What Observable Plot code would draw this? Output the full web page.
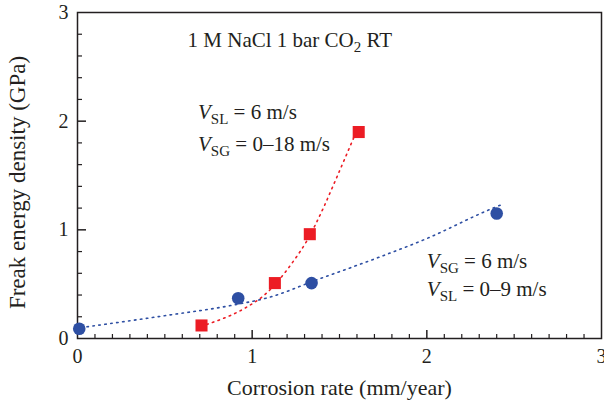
<!DOCTYPE html>
<html><head><meta charset="utf-8">
<script src="https://cdn.jsdelivr.net/npm/d3@7"></script>
<script src="https://cdn.jsdelivr.net/npm/@observablehq/plot@0.6"></script>
<style>body{margin:0;background:#fff}</style>
</head><body><div id="chart"></div>
<script>
const redX = [0.71, 1.13, 1.33, 1.61];
const redY = [0.12, 0.51, 0.96, 1.90];
const blueX = [0.01, 0.92, 1.34, 2.40];
const blueY = [0.09, 0.37, 0.51, 1.15];
const redTrendX = [0.74, 0.97, 1.07, 1.24, 1.31, 1.41, 1.47, 1.59];
const redTrendY = [0.13, 0.29, 0.40, 0.72, 0.89, 1.21, 1.43, 1.88];
const blueTrendX = [0.02, 0.5, 0.9, 1.1, 1.37, 1.73, 2.0, 2.35, 2.44];
const blueTrendY = [0.10, 0.21, 0.31, 0.38, 0.54, 0.75, 0.92, 1.18, 1.24];
const majorTicks = [0, 1, 2, 3];
const xMinor = d3.range(1, 30).map(i => i / 10).filter(v => Math.abs(v - Math.round(v)) > 1e-9);
const yMinor = d3.range(1, 15).map(i => i / 5).filter(v => Math.abs(v - Math.round(v)) > 1e-9);

const W = 604, H = 405, ML = 77, MR = 3, MT = 12, MB = 67;
const red = "#ec1c24", blue = "#2e4fa3", ink = "#231f20";
const pts = (xs, ys) => xs.map((x, i) => ({x, y: ys[i]}));
const font = "'Liberation Serif', 'DejaVu Serif', serif";

const annotations = [
  {x: 0.63, y: 2.74, key: "title"},
  {x: 0.69, y: 2.08, key: "sl1"},
  {x: 0.69, y: 1.79, key: "sg1"},
  {x: 2.0, y: 0.71, key: "sg2"},
  {x: 2.0, y: 0.45, key: "sl2"}
];

const chart = Plot.plot({
  width: W, height: H,
  marginLeft: ML, marginRight: MR, marginTop: MT, marginBottom: MB,
  style: {fontFamily: font, fontSize: "20px", color: ink, background: "#fff"},
  x: {domain: [0, 3], label: null},
  y: {domain: [0, 3], label: null},
  marks: [
    Plot.axisX(majorTicks, {tickSize: 0, tickPadding: 10, fontSize: 20, tickFormat: d3.format("d")}),
    Plot.axisY(majorTicks, {tickSize: 0, tickPadding: 9, fontSize: 20, tickFormat: d3.format("d")}),
    Plot.axisX([1, 2], {tickSize: -8, tickFormat: () => "", stroke: ink, strokeWidth: 1.5}),
    Plot.axisX(xMinor, {tickSize: -4, tickFormat: () => "", stroke: ink, strokeWidth: 1.2}),
    Plot.axisY([1, 2], {tickSize: -9, tickFormat: () => "", stroke: ink, strokeWidth: 1.5}),
    Plot.axisY(yMinor, {tickSize: -5, tickFormat: () => "", stroke: ink, strokeWidth: 1.2}),
    Plot.frame({stroke: ink, strokeWidth: 1.5}),
    Plot.line(pts(blueTrendX, blueTrendY), {x: "x", y: "y", curve: "monotone-x", stroke: blue, strokeWidth: 1.6, strokeDasharray: "1.5 4.5"}),
    Plot.line(pts(redTrendX, redTrendY), {x: "x", y: "y", curve: "monotone-x", stroke: red, strokeWidth: 1.6, strokeDasharray: "1.5 4.5"}),
    Plot.dot(pts(blueX, blueY), {x: "x", y: "y", r: 6.3, fill: blue, stroke: "none"}),
    Plot.dot(pts(redX, redY), {x: "x", y: "y", r: 6.8, symbol: "square", fill: red, stroke: "none"}),
    Plot.text(annotations, {x: "x", y: "y", text: "key", textAnchor: "start", fontSize: 21, fill: ink, className: "annot"}),
    Plot.text(["Corrosion rate (mm/year)"], {frameAnchor: "bottom", dy: 56, fontSize: 22, fill: ink}),
    Plot.text(["Freak energy density (GPa)"], {frameAnchor: "left", textAnchor: "middle", dx: -60, dy: 7, rotate: -90, fontSize: 23, fill: ink})
  ]
});

const sub = (main, s, rest) =>
  `<tspan font-style="italic">${main}</tspan><tspan dy="5" font-size="15">${s}</tspan><tspan dy="-5"> = ${rest}</tspan>`;
const html = {
  title: `1 M NaCl 1 bar CO<tspan dy="5" font-size="15">2</tspan><tspan dy="-5"> RT</tspan>`,
  sl1: sub("V", "SL", "6 m/s"),
  sg1: sub("V", "SG", "0–18 m/s"),
  sg2: sub("V", "SG", "6 m/s"),
  sl2: sub("V", "SL", "0–9 m/s")
};
d3.select(chart).selectAll("g.annot text").each(function () {
  const k = this.textContent.trim();
  if (html[k]) this.innerHTML = html[k];
});
document.getElementById("chart").appendChild(chart);
</script></body></html>
